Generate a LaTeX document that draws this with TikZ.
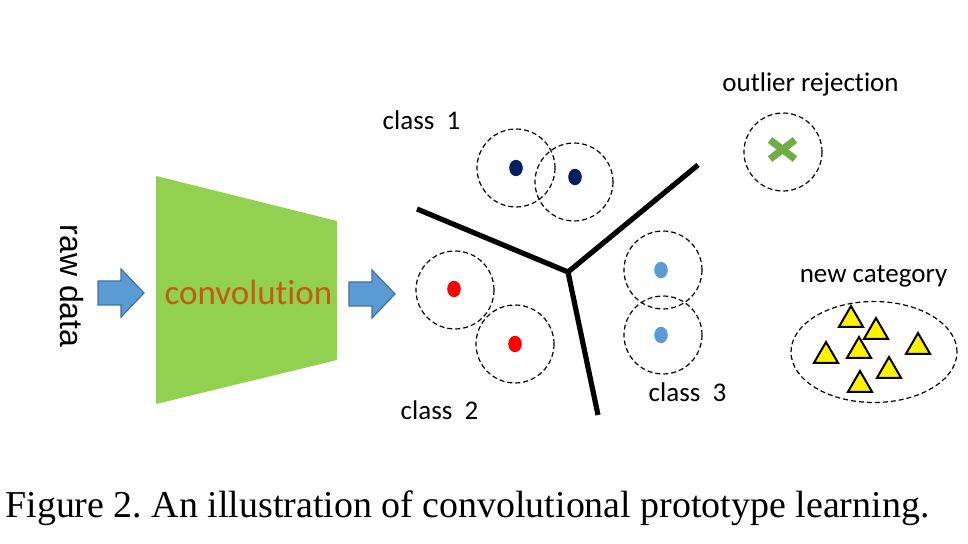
\documentclass[tikz,border=0pt]{standalone}
\usepackage{fontspec}
\setmainfont{Liberation Serif}
\newfontfamily\calibrifont[Ligatures=CommonOff]{Carlito}
\newfontfamily\arialfont{Liberation Sans}
\usepackage{tikz}
\usetikzlibrary{shapes.geometric}
\definecolor{convgreen}{HTML}{92D050}
\definecolor{convorange}{HTML}{C55A11}
\definecolor{arrowfill}{HTML}{5B9BD5}
\definecolor{arrowline}{HTML}{41719C}
\definecolor{navydot}{HTML}{002060}
\definecolor{skydot}{HTML}{5B9BD5}
\definecolor{crossgreen}{HTML}{70AD47}
\tikzset{
   ring/.style = {circle, draw, dashed, dash pattern=on 2.5pt off 1.5pt, line width=0.6pt, minimum size=39pt, inner sep=0pt},
   protodot/.style = {ellipse, minimum width=6.8pt, minimum height=8.2pt, inner sep=0pt},
   newtri/.style = {regular polygon, regular polygon sides=3, draw, fill=yellow, line width=1pt, minimum size=14pt, inner sep=0pt},
   classlabel/.style = {font=\calibrifont\fontsize{13.5}{15}\selectfont, anchor=base, inner sep=0pt},
   border/.style = {line width=2.6pt}
}
\newcommand{\blockarrow}[3]{
   \filldraw[fill=arrowfill, draw=arrowline, line width=0.6pt] (#1,{#3-12}) -- ({#2-23},{#3-12}) -- ({#2-23},{#3-24})
      -- (#2,#3) -- ({#2-23},{#3+24}) -- ({#2-23},{#3+12}) -- (#1,{#3+12}) -- cycle;
}

\begin{document}
\begin{tikzpicture}[x=0.5pt, y=-0.5pt]
		\useasboundingbox (0,0) rectangle (968,544);

		% Input and network
		\node[font=\arialfont\fontsize{16}{18}\selectfont, rotate=-90, inner sep=0pt] (rawdata) at (72,286) {raw data};
		\blockarrow{98}{144}{293}
		\fill[convgreen] (156,176) -- (337,221) -- (337,360) -- (156,404) -- cycle;
		\node[font=\calibrifont\fontsize{17.5}{20}\selectfont, text=convorange, anchor=base, inner sep=0pt] (conv) at (248.5,305) {convolution};
		\blockarrow{349}{395}{294}

		% Decision boundaries
		\coordinate (junction) at (568,272);
		\coordinate (bleft) at (417,209);
		\coordinate (bright) at (698,165);
		\coordinate (bdown) at (598,415);
		\draw[border] (bleft) -- (junction) -- (bright);
		\draw[border] (junction) -- (bdown);

		% Class 1
		\node[ring] (ringa) at (516,168) {};
		\node[ring] (ringb) at (574,182) {};
		\node[protodot, fill=navydot] (dota) at (516,168) {};
		\node[protodot, fill=navydot] (dotb) at (575,177) {};
		\node[classlabel] (classone) at (421.5,130) {class\ \ 1};

		% Class 2
		\node[ring] (ringc) at (455,290) {};
		\node[ring] (ringd) at (515,344) {};
		\node[protodot, fill=red] (dotc) at (454,289) {};
		\node[protodot, fill=red] (dotd) at (515,344) {};
		\node[classlabel] (classtwo) at (439.5,420) {class\ \ 2};

		% Class 3
		\node[ring] (ringe) at (663,270) {};
		\node[ring] (ringf) at (663,335) {};
		\node[protodot, fill=skydot] (dote) at (661,270) {};
		\node[protodot, fill=skydot] (dotf) at (661,335) {};
		\node[classlabel] (classthree) at (687.5,402) {class\ \ 3};

		% Outlier
		\node[ring] (ringout) at (783,152) {};
		\draw[crossgreen, line width=3.6pt] (770,140) -- (795,159);
		\draw[crossgreen, line width=3.6pt] (770,159) -- (795,140);
		\node[classlabel] (outlier) at (810.5,92) {outlier rejection};

		% New category
		\node[ellipse, draw, dashed, dash pattern=on 2.5pt off 1.5pt, line width=0.6pt, minimum width=83pt, minimum height=50.5pt] (newcat) at (874,352) {};
		\foreach \name/\px/\py in {ta/851/320, tb/876/332, tc/918/347, td/859/351, te/826/356, tf/889/371, tg/860/385}
			\node[newtri] (\name) at (\px,\py) {};
		\node[classlabel] (newlabel) at (873.5,283) {new category};

		% Caption
		\node[anchor=base west, inner sep=0pt, font=\fontsize{19}{22}\selectfont] (caption) at (5,517)
			{\frenchspacing\resizebox{462pt}{\height}{Figure 2. An illustration of convolutional prototype learning.}};
	\end{tikzpicture}
\end{document}
